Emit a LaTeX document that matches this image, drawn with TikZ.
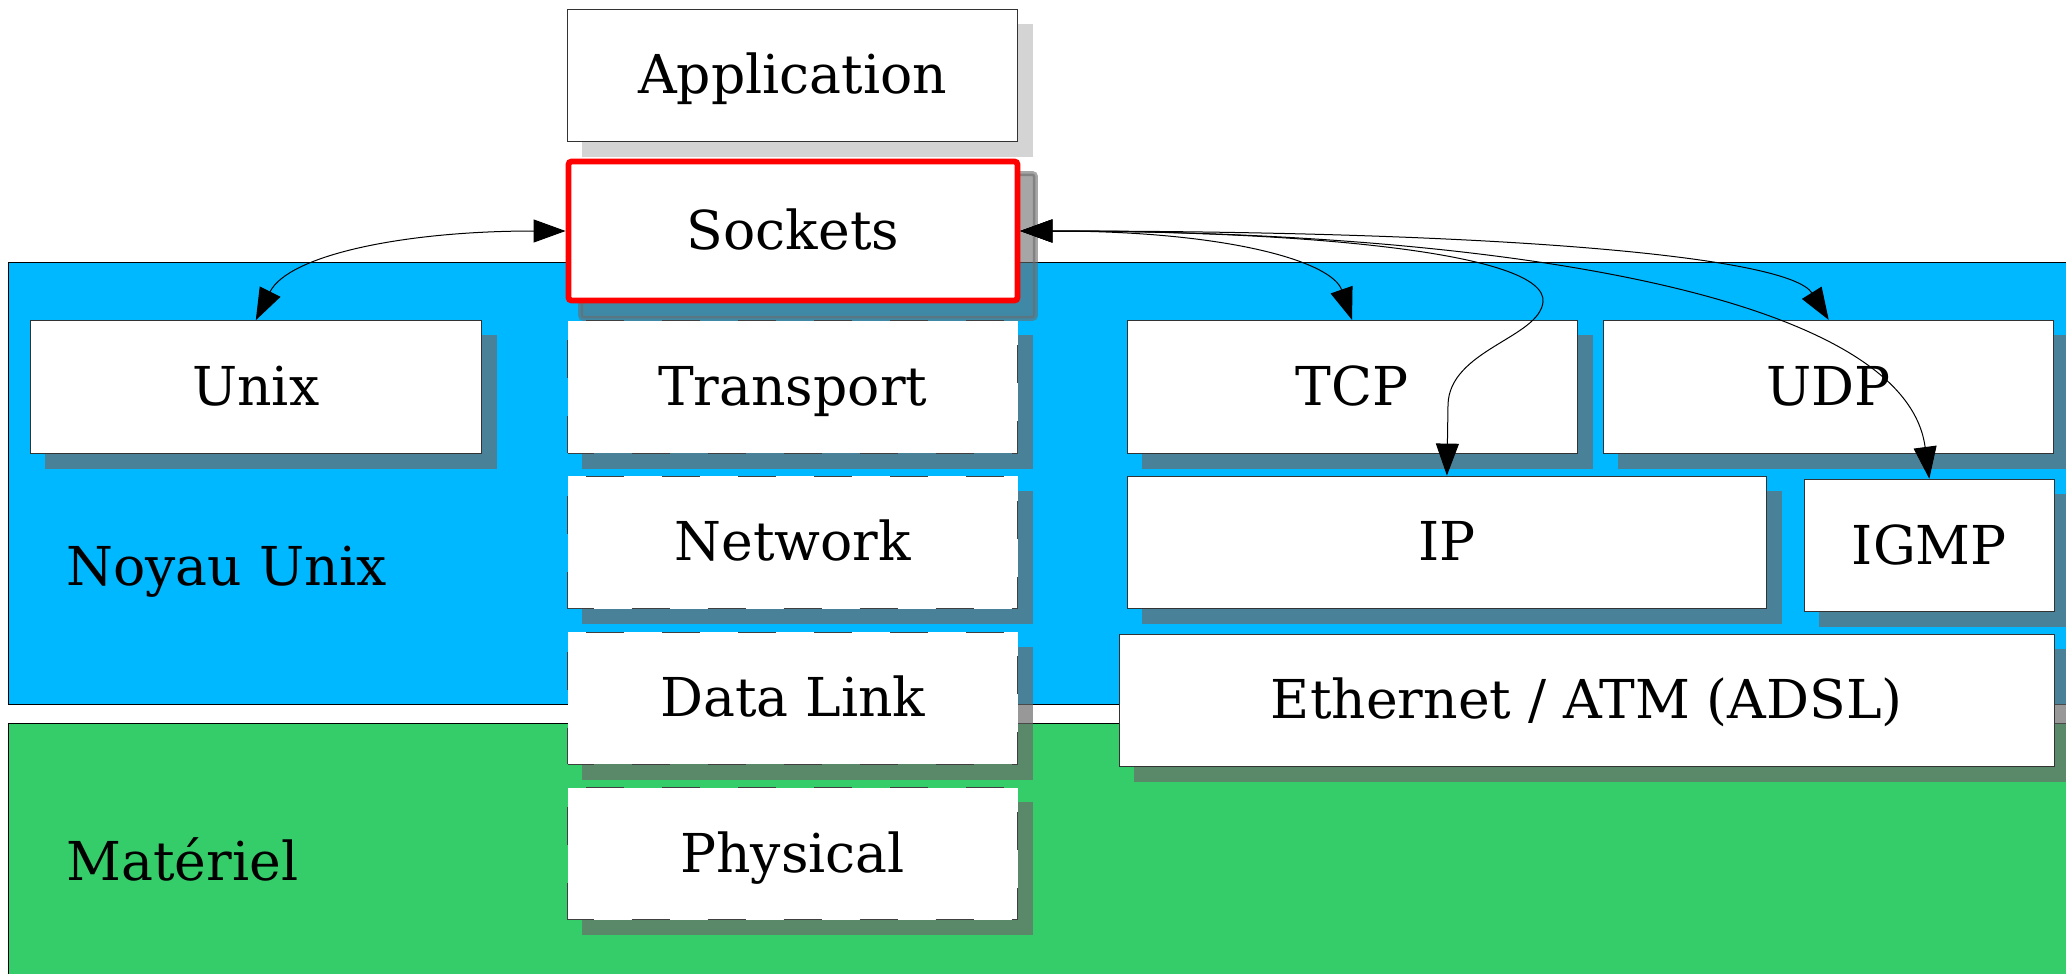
\documentclass[tikz,border=0pt]{standalone}
\usepackage{fontspec}
\setmainfont{DejaVu Serif}
\usetikzlibrary{arrows.meta}
\definecolor{kblue}{RGB}{0,184,255}
\definecolor{kgreen}{RGB}{53,204,106}
\definecolor{kshadow}{RGB}{107,107,107}
\pgfdeclarelayer{bg}
\pgfdeclarelayer{shadowlayer}
\pgfsetlayers{bg,shadowlayer,main}
\tikzset{
  layerbox/.style={rectangle, draw=black!80, line width=0.5pt, fill=white, inner sep=0pt,
    text height=19pt, text depth=0.5pt,
    font=\fontsize{26.8}{32}\selectfont, text=black},
  dashbox/.style={layerbox, draw=black!75, dash pattern=on 19pt off 19pt, dash phase=6pt},
  sockbox/.style={layerbox, draw=red, line width=2.9pt, rounded corners=1.5pt},
  shadowfill/.style={fill=kshadow, fill opacity=0.69},
  lbl/.style={anchor=base west, inner sep=0pt, font=\fontsize{26.8}{32}\selectfont},
  conn/.style={line width=0.5pt, {Triangle[length=16pt,width=11.5pt]}-{Triangle[length=16pt,width=11.5pt]}},
}
\newcommand{\shadowof}[1]{%
  \fill[shadowfill] ([shift={(15,15)}]#1.north west) rectangle ([shift={(15,15)}]#1.south east);}
\begin{document}
\begin{tikzpicture}[x=0.5pt,y=-0.5pt]
\useasboundingbox (0,0) rectangle (2066,974);
\clip (0,0) rectangle (2066,974);

\begin{pgfonlayer}{bg}
  \fill[white] (0,0) rectangle (2066,974);
  \draw[fill=kblue, line width=0.5pt] (8.5,262) rectangle (2090,704);
  \draw[fill=kgreen, line width=0.5pt] (8.5,723) rectangle (2090,1000);
\end{pgfonlayer}

% stack
\node[layerbox, minimum width=225pt, minimum height=66pt] (app) at (792.7,75.3) {Application};
\node[sockbox, minimum width=224.5pt, minimum height=69.5pt] (sockets) at (793,231) {Sockets};
\node[dashbox, minimum width=225pt, minimum height=66.2pt] (transport) at (792.7,386.9) {Transport};
\node[dashbox, minimum width=225pt, minimum height=66.2pt] (network) at (792.7,542.4) {Network};
\node[dashbox, minimum width=225pt, minimum height=66.2pt] (datalink) at (792.7,698.2) {Data Link};
\node[dashbox, minimum width=225pt, minimum height=66.2pt] (physical) at (792.7,853.7) {Physical};

% kernel boxes
\node[layerbox, minimum width=225.2pt, minimum height=66.2pt] (unix) at (255.8,386.9) {Unix};
\node[layerbox, minimum width=225pt, minimum height=66.3pt] (tcp) at (1352,386.7) {TCP};
\node[layerbox, minimum width=225pt, minimum height=66.3pt] (udp) at (1828.7,386.7) {UDP};
\node[layerbox, minimum width=319.9pt, minimum height=66.3pt] (ip) at (1446.9,542.4) {IP};
\node[layerbox, minimum width=124.7pt, minimum height=66.2pt] (igmp) at (1929.3,545.5) {IGMP};
\node[layerbox, minimum width=467.2pt, minimum height=66pt] (eth) at (1586.8,700) {Ethernet / ATM (ADSL)};

% region labels
\node[lbl] (noyau) at (66,585) {Noyau Unix};
\node[lbl] (materiel) at (66,880) {Matériel};

% shadows
\begin{pgfonlayer}{shadowlayer}
  \fill[black!17] ([shift={(15,15)}]app.north west) rectangle ([shift={(15,15)}]app.south east);
  \filldraw[fill=kshadow, draw=kshadow, line width=2.5pt, opacity=0.6, rounded corners=1.5pt]
    ([shift={(15,15)}]sockets.north west) rectangle ([shift={(15,15)}]sockets.south east);
  \shadowof{transport}
  \shadowof{network}
  \shadowof{datalink}
  \shadowof{physical}
  \shadowof{unix}
  \shadowof{tcp}
  \shadowof{udp}
  \shadowof{ip}
  \shadowof{igmp}
  \shadowof{eth}
\end{pgfonlayer}

% connectors
\draw[conn] (sockets.west) .. controls (400,231) and (288,256) .. (unix.north);
\draw[conn] (sockets.east) .. controls (1230,231) and (1332,262) .. (tcp.north);
\draw[conn] (sockets.east) .. controls (1300,231) and (1548,252) .. (1543,302)
   .. controls (1539,338) and (1449,350) .. (1448,405) -- (ip.north);
\draw[conn] (sockets.east) .. controls (1520,231) and (1790,258) .. (udp.north);
\draw[conn] (sockets.east) .. controls (1500,231) and (1905,295) .. (igmp.north);
\end{tikzpicture}
\end{document}
